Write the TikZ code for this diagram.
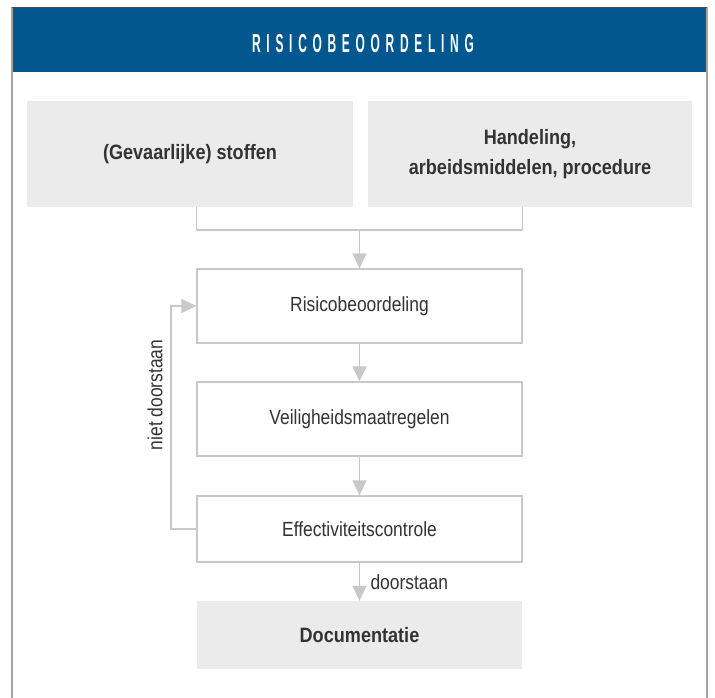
\documentclass[tikz,border=0pt]{standalone}
\usepackage{fontspec}
\setmainfont{Liberation Sans}[FakeStretch=0.85]
\newfontfamily\boldfont{Liberation Sans Bold}[FakeStretch=0.87]
\newfontfamily\headfont{Liberation Sans Bold}[FakeStretch=0.46,LetterSpace=22]
\usetikzlibrary{arrows.meta}
\definecolor{hblue}{HTML}{02578F}
\definecolor{boxgrey}{HTML}{EBEBEB}
\definecolor{linegrey}{HTML}{C8C8C8}
\definecolor{framegrey}{HTML}{A3A3A3}
\definecolor{txt}{HTML}{333333}
\tikzset{
  body/.style={font=\fontsize{20.5}{30}\selectfont, text=txt, align=center},
  greybox/.style={body, fill=boxgrey, inner sep=0pt, font=\boldfont\fontsize{20.8}{30}\selectfont},
  whitebox/.style={body, draw=linegrey, line width=1.3pt, fill=white, inner sep=0pt, minimum width=325pt},
  conn/.style={draw=linegrey, line width=1.3pt},
  arr/.style={conn, -{Triangle[width=14pt,length=15pt]}, color=linegrey},
}
\begin{document}
\begin{tikzpicture}[x=1pt,y=-1pt]
\useasboundingbox (0,0) rectangle (715,698);
\fill[white] (0,0) rectangle (715,698);
% frame
\fill[hblue] (12,7) rectangle (707,72);
\draw[framegrey, line width=1.5pt] (12,7) -- (12,698);
\draw[framegrey, line width=1.5pt] (707,7) -- (707,698);
\draw[black!70, line width=0.6pt] (12,7) -- (707,7);
\node[text=white, font=\headfont\fontsize{26}{28}\selectfont] (title) at (363,44) {RISICOBEOORDELING};
% top boxes
\node[greybox, minimum width=326pt, minimum height=106pt] (gs) at (190,154) {(Gevaarlijke) stoffen};
\node[greybox, minimum width=324pt, minimum height=106pt] (ha) at (530,154) {Handeling,\\arbeidsmiddelen, procedure};
% flow boxes
\node[whitebox, minimum height=74pt] (rb) at (359.5,306) {Risicobeoordeling};
\node[whitebox, minimum height=74pt] (vm) at (359.5,419) {Veiligheidsmaatregelen};
\node[whitebox, minimum height=66pt] (ec) at (359.5,529) {Effectiviteitscontrole};
\node[greybox, minimum width=325pt, minimum height=68pt] (doc) at (359.5,635) {Documentatie};
% bracket
\coordinate (brk) at (359.5,230);
\draw[conn] (gs.south -| rb.west) |- (brk) -| (ha.south -| rb.east);
\draw[arr] (brk) -- (rb.north);
\draw[arr] (rb.south) -- (vm.north);
\draw[arr] (vm.south) -- (ec.north);
\draw[arr] (ec.south) -- (doc.north);
\node[body, anchor=west] (ds) at (367,582) {doorstaan};
% loop
\coordinate (lp) at (171,529);
\draw[arr] (ec.west) -- (lp) |- (rb.west);
\node[body, rotate=90] (nd) at (155,395) {niet doorstaan};
\end{tikzpicture}
\end{document}
